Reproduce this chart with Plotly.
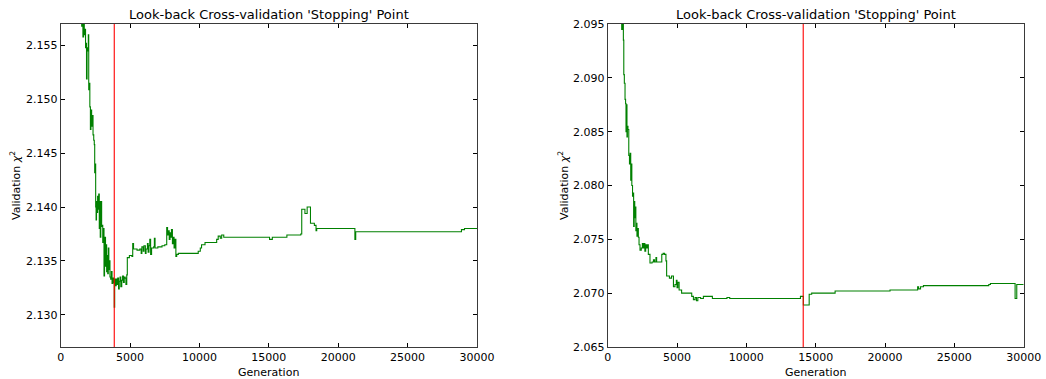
import plotly.graph_objects as go

# ---- Run A: look-back validation chi^2 per generation ----
gen_a = [1400, 1513, 1560, 1600, 1650, 1700, 1750, 1790, 1830, 1860, 1900, 1950,
         1990, 2020, 2060, 2100, 2140, 2180, 2230, 2280, 2330, 2380, 2420, 2450,
         2490, 2520, 2550, 2580, 2620, 2660, 2700, 2740, 2780, 2810, 2850, 2890,
         2920, 2950, 2990, 3030, 3080, 3120, 3160, 3190, 3230, 3270, 3310, 3350,
         3390, 3430, 3470, 3510, 3550, 3600, 3650, 3700, 3760, 3820, 3860, 3890,
         3950, 4000, 4060, 4110, 4170, 4220, 4280, 4330, 4400, 4460, 4520, 4580,
         4640, 4700, 4760, 4800, 4950, 5130, 5190, 5250, 5500, 5700, 5800, 5850,
         5950, 6000, 6100, 6150, 6250, 6300, 6360, 6420, 6480, 6550, 6700, 6750,
         6800, 7000, 7300, 7500, 7640, 7700, 7760, 7820, 7880, 7930, 7980, 8050,
         8110, 8170, 8230, 8300, 8360, 8480, 9910, 10060, 10150, 10400, 11240,
         11350, 11500, 11600, 11750, 15050, 15250, 16300, 17300, 17370, 17600,
         17760, 18000, 18280, 18400, 18450, 21200, 21260, 28880, 29100, 30000]
chi_a = [2.1600, 2.1568, 2.1571, 2.1558, 2.1570, 2.1560, 2.1565, 2.1548, 2.1552,
         2.1519, 2.1548, 2.1545, 2.1560, 2.1509, 2.1515, 2.1493, 2.1472, 2.1490,
         2.1475, 2.1485, 2.1467, 2.1462, 2.1458, 2.1432, 2.1440, 2.1400, 2.1388,
         2.1405, 2.1395, 2.1410, 2.1398, 2.1412, 2.1380, 2.1405, 2.1372, 2.1395,
         2.1405, 2.1382, 2.1383, 2.1367, 2.1380, 2.1336, 2.1350, 2.1372, 2.1345,
         2.1365, 2.1340, 2.1355, 2.1338, 2.1362, 2.1342, 2.1350, 2.1335, 2.1333,
         2.1340, 2.1329, 2.1334, 2.1330, 2.1307, 2.1333, 2.1327, 2.1333, 2.1328,
         2.1334, 2.1324, 2.1331, 2.1335, 2.1326, 2.1332, 2.1336, 2.1330, 2.1335,
         2.1334, 2.1328, 2.1337, 2.1353, 2.1355, 2.1354, 2.1366, 2.1361, 2.1360,
         2.1361, 2.1357, 2.1363, 2.1359, 2.1364, 2.1357, 2.1361, 2.1366, 2.1358,
         2.1364, 2.1370, 2.1356, 2.1362, 2.1363, 2.1371, 2.1362, 2.1363, 2.1364,
         2.1365, 2.1381, 2.1374, 2.1378, 2.1370, 2.1376, 2.1372, 2.1379, 2.1366,
         2.1372, 2.1362, 2.1370, 2.1354, 2.1356, 2.1357, 2.1359, 2.1362, 2.1365,
         2.1367, 2.1370, 2.1373, 2.1371, 2.1374, 2.1372, 2.1370, 2.1372, 2.1374,
         2.1375, 2.1398, 2.1394, 2.1400, 2.1385, 2.1383, 2.1378, 2.1380, 2.1370,
         2.1377, 2.1379, 2.1380, 2.1380]
stop_a = 3860

# ---- Run B ----
gen_b = [900, 1010, 1080, 1130, 1160, 1200, 1250, 1290, 1320, 1350, 1390, 1420,
         1460, 1520, 1570, 1620, 1660, 1700, 1740, 1790, 1830, 1870, 1910, 1950,
         1990, 2030, 2070, 2110, 2160, 2210, 2260, 2330, 2420, 2500, 2560, 2620,
         2680, 2740, 2800, 2850, 2930, 3050, 3200, 3300, 3380, 3480, 3530, 3900,
         4000, 4100, 4200, 4250, 4450, 4600, 4740, 4850, 4950, 5000, 5060, 5150,
         5330, 6060, 6180, 6300, 6400, 6500, 6700, 6900, 7550, 8600, 8800, 13900,
         14110, 14530, 14710, 16400, 20360, 22350, 22420, 22560, 22770, 27480,
         27600, 29380, 29500, 30000]
chi_b = [2.1000, 2.0945, 2.0950, 2.0935, 2.0903, 2.0895, 2.0880, 2.0876, 2.0850,
         2.0875, 2.0845, 2.0855, 2.0852, 2.0828, 2.0820, 2.0830, 2.0805, 2.0820,
         2.0800, 2.0790, 2.0793, 2.0762, 2.0785, 2.0770, 2.0780, 2.0758, 2.0765,
         2.0753, 2.0760, 2.0752, 2.0745, 2.0740, 2.0742, 2.0746, 2.0742, 2.0746,
         2.0739, 2.0745, 2.0742, 2.0745, 2.0736, 2.0728, 2.0729, 2.0731, 2.0729,
         2.0733, 2.0729, 2.0736, 2.0737, 2.0736, 2.0730, 2.0716, 2.0714, 2.0716,
         2.0706, 2.0708, 2.0712, 2.0705, 2.0710, 2.0703, 2.0700, 2.0697, 2.0694,
         2.0696, 2.0693, 2.0696, 2.0695, 2.0697, 2.0695, 2.0696, 2.0695, 2.0697,
         2.0689, 2.0699, 2.0700, 2.0702, 2.0703, 2.0706, 2.0704, 2.0706, 2.0707,
         2.0708, 2.0709, 2.0695, 2.0708, 2.0708]
stop_b = 14100

x_ticks = [0, 5000, 10000, 15000, 20000, 25000, 30000]
y_range_a = [2.127, 2.157]
y_range_b = [2.065, 2.095]
title_text = "Look-back Cross-validation 'Stopping' Point"

W, H = 1046, 379
FONT = "DejaVu Sans"
FRAME = "#3a3a3a"

fig = go.Figure()

panels = [
    dict(gen=gen_a, chi=chi_a, stop=stop_a, yr=y_range_a, xdom=[60.7 / W, 477 / W],
         yticks=[2.130, 2.135, 2.140, 2.145, 2.150, 2.155], ylab_x=15 / W),
    dict(gen=gen_b, chi=chi_b, stop=stop_b, yr=y_range_b, xdom=[607.7 / W, 1023.7 / W],
         yticks=[2.065, 2.070, 2.075, 2.080, 2.085, 2.090, 2.095], ylab_x=563 / W),
]
ydom = [(H - 347) / H, (H - 24) / H]

annotations = []
for i, p in enumerate(panels, start=1):
    xa = "x" if i == 1 else f"x{i}"
    ya = "y" if i == 1 else f"y{i}"
    fig.add_trace(go.Scatter(x=p["gen"], y=p["chi"], mode="lines", line_shape="hv",
                             line=dict(color="#008000", width=1.1),
                             xaxis=xa, yaxis=ya, showlegend=False, hoverinfo="skip"))
    fig.add_trace(go.Scatter(x=[p["stop"], p["stop"]], y=p["yr"], mode="lines",
                             line=dict(color="#ff0000", width=1.1),
                             xaxis=xa, yaxis=ya, showlegend=False, hoverinfo="skip"))
    axis_common = dict(showgrid=False, zeroline=False, showline=True, linecolor=FRAME,
                       linewidth=1, mirror="allticks", ticks="inside", ticklen=4,
                       tickcolor="#000000", tickwidth=1, automargin=False,
                       tickfont=dict(family=FONT, size=11, color="#000000"))
    xkey = "xaxis" if i == 1 else f"xaxis{i}"
    ykey = "yaxis" if i == 1 else f"yaxis{i}"
    fig.update_layout(**{
        xkey: dict(domain=p["xdom"], range=[0, 30000], tickvals=x_ticks,
                   ticktext=[str(v) for v in x_ticks], anchor=ya, **axis_common),
        ykey: dict(domain=ydom, range=p["yr"], tickvals=p["yticks"],
                   ticktext=[f"{v:.3f}" for v in p["yticks"]], anchor=xa,
                   **axis_common),
    })
    xc = (p["xdom"][0] + p["xdom"][1]) / 2
    annotations.append(dict(text=title_text, x=xc, y=(H - 14.5) / H, xref="paper",
                            yref="paper", showarrow=False, xanchor="center",
                            yanchor="middle",
                            font=dict(family=FONT, size=13, color="#000000")))
    annotations.append(dict(text="Generation", x=xc, y=(H - 372) / H, xref="paper",
                            yref="paper", showarrow=False, xanchor="center",
                            yanchor="middle",
                            font=dict(family=FONT, size=11, color="#000000")))
    annotations.append(dict(text="Validation <i>χ</i><sup>2</sup>", x=p["ylab_x"],
                            y=(H - 186) / H, xref="paper", yref="paper",
                            showarrow=False, xanchor="center", yanchor="middle",
                            textangle=-90,
                            font=dict(family=FONT, size=11, color="#000000")))

fig.update_layout(width=W, height=H, margin=dict(l=0, r=0, t=0, b=0),
                  paper_bgcolor="white", plot_bgcolor="white",
                  annotations=annotations)

fig.write_html("out.html")
